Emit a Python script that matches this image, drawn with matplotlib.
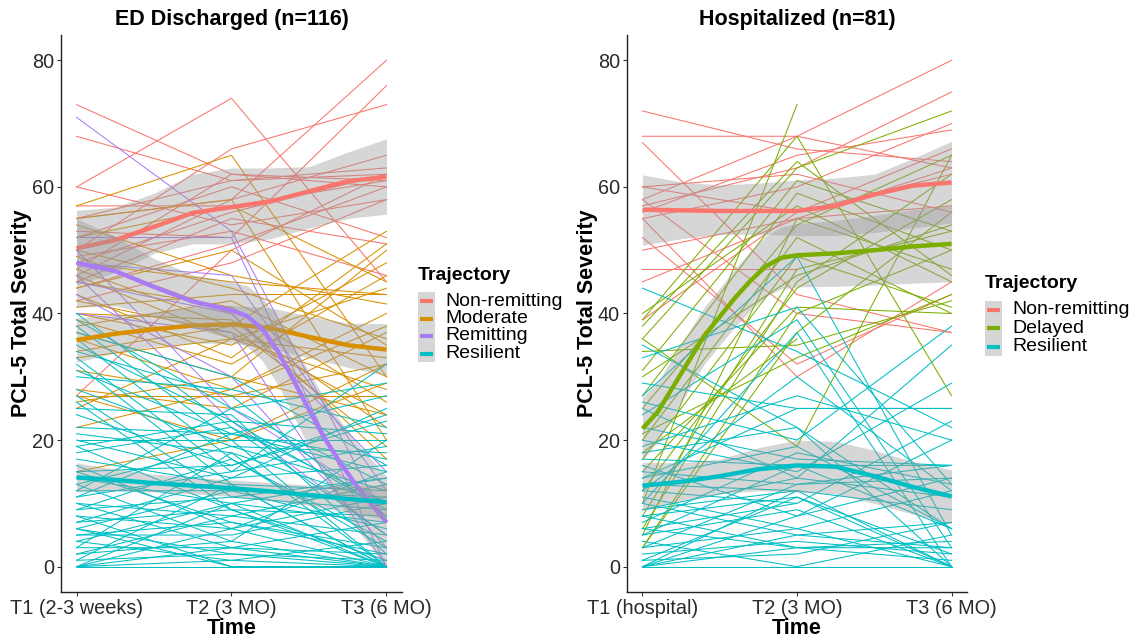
import numpy as np
import matplotlib
matplotlib.use("Agg")
import matplotlib.pyplot as plt
from matplotlib.patches import Rectangle

plt.rcParams['font.family'] = ['Liberation Sans', 'DejaVu Sans']

# ---------------- DATA ----------------
ed_title = "ED Discharged (n=116)"
hosp_title = "Hospitalized (n=81)"
ed_ticks = ["T1 (2-3 weeks)", "T2 (3 MO)", "T3 (6 MO)"]
hosp_ticks = ["T1 (hospital)", "T2 (3 MO)", "T3 (6 MO)"]
y_ticks = [0, 20, 40, 60, 80]

colors = {"Non-remitting": "#F8766D", "Moderate": "#D89000", "Remitting": "#A97CF5",
          "Resilient": "#00BFC4", "Delayed": "#7CAE00"}

nan = np.nan
# ED discharged individual trajectories (T1, T2, T3)
ed_nonremit_t1 = [73, 68, 60, 60, 50, 55, 53, 48, 47, 52, 45, 44, 27, 57, 49, 42, 55, 46]
ed_nonremit_t2 = [62, 61, 74, 54, 66, 58, 52, 56, 62, 60, 55, 51, 50, 57, 53, 48, 61, 58]
ed_nonremit_t3 = [60, 63, 45, 58, 73, 80, 76, 62, 61, 52, 51, 60, 62, 61, 46, 58, 62, 65]

ed_moderate_t1 = [57, 55, 54, 52, 50, 49, 48, 47, 46, 45, 44, 43, 42, 41, 40, 40, 39, 38, 37, 36,
                  34, 33, 31, 28, 27, 27, 26, 25, 22, 15]
ed_moderate_t2 = [65, 58, 46, 57, 44, 40, 45, 38, 36, 41, 50, 33, 37, 43, 35, 39, 32, 42, 30, 28,
                  38, 36, 27, 25, 27, 20, 30, 36, 28, 20]
ed_moderate_t3 = [30, 20, 41.5, 45, 36, 17, 43, 53, 28, 26, 35, 51, 24, 43, 48, 22, 46, 30, 50, 40,
                  19, 44, 32, 37, 27, 29, 24, 33, 38, 32]

ed_remit_t1 = [71, 52, 48, 45, 43, 40, 50, 46]
ed_remit_t2 = [53, 52, 46, 40, 30, 37, 25, 23]
ed_remit_t3 = [7, 0, 12, 15, 3, 0, 10, 5]

ed_resil_t1 = [40, 39, 38, 37, 36, 35, 34, 33, 32, 30, 28, 27, 25, 22, 21, 20, 20, 19, 18, 17,
               16, 15, 14, 13, 13, 12, 11, 10, 10, 9, 9, 8, 8, 7, 7, 6, 6, 5, 5, 4,
               4, 3, 3, 2, 2, 1, 1, 0, 0, 0, 0, 0, 12, 24, 26, 31, 15, 11, 19, 6]
ed_resil_t2 = [22, 25, 20, 30, 17, 23, 27, 15, 13, 28, 19, 11, 24, 21, 18, 14, 20, 9, 22, 13,
               6, 16, 10, 19, 4, 12, 15, 8, 3, 11, 17, 6, 0, 9, 14, 2, 12, 7, 5, 1,
               10, 3, 18, 8, 4, 2, 13, 0, 6, 1, 10, 3, 25, 16, 9, 21, 7, 21, 23, 0]
ed_resil_t3 = [10, 13, 0, 16, 3, 21, 8, 19, 0, 22, 12, 14, 2, 27, 10, 16, 20, 0, 5, 12,
               0, 24, 7, 18, 0, 11, 32, 13, 0, 9, 4, 15, 0, 8, 25, 0, 6, 3, 10, 0,
               14, 2, 0, 5, 20, 1, 0, 0, 11, 4, 0, 7, 29, 23, 1, 15, 2, 17, 9, 0]

# Hospitalized individual trajectories
ho_nonremit_t1 = [72, 68, 67, 58, 57, 56, 55, 60, 50, 47, 45, 52, 55, 58, 39, 60]
ho_nonremit_t2 = [66, 68, 43, 68, 63, 65, 60, 56, 55, 47, 55, 32, 30, 40, 56, 62]
ho_nonremit_t3 = [64, 63, 37, 80, 75, 69, 70, 66, 57, nan, 63, 43, 45, 37, 62, 56]

ho_delayed_t1 = [10, 39, 38, 36, 31, 40, 25, 20, 17, 8, 6, 3, 36, 34, 3, 12, 21, 27, 15, 5, 30, 18]
ho_delayed_t2 = [73, 68, 64, 63, 61, 57, 54, 52, 49, 47, 45, 40, 19, 35, 37, 44, 33, 59, 41, 55, 46, 36]
ho_delayed_t3 = [nan, 27, 46, 72, 53, 45, 65, 40, 41, 53, 62, 50, 65, 42, 56, 58, 43, 50, 40, 47, 54, nan]

ho_resil_t1 = [44, 35, 33, 29, 27, 26, 25, 24, 22, 20, 18, 17, 16, 15, 14, 13, 12, 11, 10, 10,
               9, 8, 8, 7, 6, 5, 5, 4, 3, 3, 2, 1, 1, 0, 0, 0, 0, 0, 12, 19, 6, 9, 14]
ho_resil_t2 = [34, 22, 41, 25, 49, 20, 14, 39, 17, 15, 22, 16, 8, 13, 25, 12, 10, 6, 5, 37,
               14, 3, 11, 18, 3, 9, 16, 0, 6, 13, 4, 11, 2, 0, 5, 12, 8, 3, 30, 27, 10, 12, 19]
ho_resil_t3 = [22, 0, 13, 25, 5, 38, 35, 3, 16, 29, 6, 16, 20, 14, 25, 9, 23, 12, 7, 0,
               11, 4, 2, 13, 3, 0, 6, 5, 0, 16, 2, 0, 7, 0, 3, 0, 14, 1, 12, 20, nan, nan, 6]

# Smoothed trajectories (loess fits): x, fit, lower, upper
sm_x = [1, 1.25, 1.5, 1.75, 2, 2.25, 2.5, 2.75, 3]
ed_nonremit_fit = [50.3, 51.6, 53.7, 55.9, 56.8, 57.7, 59.3, 60.9, 61.6]
ed_nonremit_lo = [44.5, 46.5, 49.5, 51.0, 51.0, 51.8, 53.5, 55.0, 55.7]
ed_nonremit_hi = [56.3, 56.8, 59.0, 62.0, 63.0, 63.0, 63.2, 65.5, 67.6]
ed_moderate_fit = [35.8, 36.8, 37.5, 38.1, 38.3, 37.7, 36.3, 35.0, 34.3]
ed_moderate_lo = [32.3, 33.8, 34.8, 35.3, 35.3, 34.5, 33.0, 31.5, 30.2]
ed_moderate_hi = [39.3, 39.8, 40.2, 40.9, 41.3, 40.9, 39.6, 38.5, 38.4]
ed_resil_fit = [14.1, 13.7, 13.2, 12.8, 12.4, 11.9, 11.3, 10.7, 10.2]
ed_resil_lo = [11.8, 12.0, 11.8, 11.5, 11.1, 10.5, 9.7, 8.6, 7.4]
ed_resil_hi = [16.4, 15.4, 14.6, 14.1, 13.7, 13.3, 12.9, 12.8, 13.0]

remit_x = [1, 1.25, 1.5, 1.75, 2, 2.1, 2.2, 2.3, 2.4, 2.5, 2.6, 2.7, 2.8, 2.9, 3]
ed_remit_fit = [48, 46.7, 44.2, 41.9, 40.5, 39.6, 37.5, 34, 29.5, 24.8, 20.3, 16.5, 13, 10, 7]
ed_remit_lo = [41, 41.2, 39.7, 37.7, 36.0, 34.8, 32.5, 28.7, 23.9, 18.8, 14.0, 9.9, 6.2, 3.0, -0.2]
ed_remit_hi = [55, 52.2, 48.7, 46.1, 45.0, 44.4, 42.5, 39.3, 35.1, 30.8, 26.6, 23.1, 19.8, 17.0, 14.2]

ho_nonremit_fit = [56.4, 56.3, 56.2, 56.2, 56.2, 57.0, 58.8, 60.2, 60.7]
ho_nonremit_lo = [50.8, 51.8, 52.5, 52.5, 52.3, 52.3, 52.8, 53.5, 54.3]
ho_nonremit_hi = [61.9, 60.8, 60.3, 60.6, 61.1, 61.4, 62.0, 64.5, 67.2]
ho_resil_fit = [12.8, 13.4, 14.3, 15.4, 16.0, 15.8, 14.3, 12.6, 11.1]
ho_resil_lo = [8.9, 10.5, 11.5, 12.0, 11.8, 11.5, 10.0, 8.3, 6.8]
ho_resil_hi = [16.5, 16.4, 17.0, 18.8, 20.0, 19.8, 18.4, 16.6, 15.3]

delayed_x = [1, 1.1, 1.2, 1.3, 1.4, 1.5, 1.6, 1.7, 1.8, 1.9, 2, 2.25, 2.5, 2.75, 3]
ho_delayed_fit = [21.8, 24.5, 28.5, 32.5, 36.5, 39.5, 42.5, 45.2, 47.5, 48.8, 49.2, 49.5, 50.0, 50.6, 51.0]
ho_delayed_lo = [16.8, 19.8, 23.8, 27.9, 32.0, 35.0, 37.9, 40.5, 42.7, 43.9, 44.2, 44.3, 44.5, 44.8, 45.0]
ho_delayed_hi = [26.8, 29.2, 33.2, 37.1, 41.0, 44.0, 47.1, 49.9, 52.3, 53.7, 54.2, 54.7, 55.5, 56.4, 57.0]

# ---------------- PLOT ----------------
W, H = 1132, 638
fig = plt.figure(figsize=(W / 100, H / 100), dpi=100)
fig.patch.set_facecolor("white")

RIB = "#999999"
RIB_A = 0.4
times = np.array([1, 2, 3])
BOLD = 15.5
TICK = 14.3


def draw_panel(ax, groups, smooths, ticks, title):
    for t1, t2, t3, col in groups:
        for a, b, c in zip(t1, t2, t3):
            ax.plot(times, [a, b, c], color=col, lw=0.75, solid_joinstyle="miter", zorder=2)
    for x, fit, lo, hi, col in smooths:
        ax.fill_between(x, lo, hi, color=RIB, alpha=RIB_A, lw=0, zorder=3)
        ax.plot(x, fit, color=col, lw=3.2, solid_capstyle="butt", zorder=3)
    ax.set_xlim(0.9, 3.1)
    ax.set_ylim(-4, 84)
    ax.set_xticks([1, 2, 3])
    ax.set_xticklabels(ticks, fontsize=TICK, color="#2a2a2a")
    ax.set_yticks(y_ticks)
    ax.set_yticklabels([str(v) for v in y_ticks], fontsize=TICK, color="#2a2a2a")
    ax.tick_params(length=3, width=0.8, color="#333333", pad=2)
    for s in ["top", "right"]:
        ax.spines[s].set_visible(False)
    for s in ["left", "bottom"]:
        ax.spines[s].set_linewidth(1.0)
        ax.spines[s].set_color("#222222")
    ax.set_xlabel("Time", fontsize=BOLD, fontweight="bold", labelpad=0)
    ax.set_ylabel("PCL-5 Total Severity", fontsize=BOLD, fontweight="bold", labelpad=0)
    ax.set_title(title, fontsize=BOLD, fontweight="bold", pad=7)


ax1 = fig.add_axes([61 / W, 1 - 592 / H, (402 - 61) / W, (592 - 35) / H])
draw_panel(
    ax1,
    [(ed_nonremit_t1, ed_nonremit_t2, ed_nonremit_t3, colors["Non-remitting"]),
     (ed_moderate_t1, ed_moderate_t2, ed_moderate_t3, colors["Moderate"]),
     (ed_remit_t1, ed_remit_t2, ed_remit_t3, colors["Remitting"]),
     (ed_resil_t1, ed_resil_t2, ed_resil_t3, colors["Resilient"])],
    [(sm_x, ed_nonremit_fit, ed_nonremit_lo, ed_nonremit_hi, colors["Non-remitting"]),
     (sm_x, ed_moderate_fit, ed_moderate_lo, ed_moderate_hi, colors["Moderate"]),
     (remit_x, ed_remit_fit, ed_remit_lo, ed_remit_hi, colors["Remitting"]),
     (sm_x, ed_resil_fit, ed_resil_lo, ed_resil_hi, colors["Resilient"])],
    ed_ticks, ed_title)

ax2 = fig.add_axes([627 / W, 1 - 592 / H, (967 - 627) / W, (592 - 35) / H])
draw_panel(
    ax2,
    [(ho_nonremit_t1, ho_nonremit_t2, ho_nonremit_t3, colors["Non-remitting"]),
     (ho_delayed_t1, ho_delayed_t2, ho_delayed_t3, colors["Delayed"]),
     (ho_resil_t1, ho_resil_t2, ho_resil_t3, colors["Resilient"])],
    [(sm_x, ho_nonremit_fit, ho_nonremit_lo, ho_nonremit_hi, colors["Non-remitting"]),
     (delayed_x, ho_delayed_fit, ho_delayed_lo, ho_delayed_hi, colors["Delayed"]),
     (sm_x, ho_resil_fit, ho_resil_lo, ho_resil_hi, colors["Resilient"])],
    hosp_ticks, hosp_title)


def draw_legend(x0, title_y, first_y, step, labels):
    fig.text(x0 / W, 1 - title_y / H, "Trajectory", fontsize=14, fontweight="bold",
             ha="left", va="center")
    top = first_y - step / 2
    n = len(labels)
    fig.patches.append(Rectangle((x0 / W, 1 - (top + n * step) / H), 17 / W, n * step / H,
                                 transform=fig.transFigure, facecolor="#D6D6D6",
                                 edgecolor="none", zorder=1))
    for i, lab in enumerate(labels):
        yy = first_y + i * step
        fig.lines.append(plt.Line2D([(x0 + 2) / W, (x0 + 15) / W], [1 - yy / H, 1 - yy / H],
                                    transform=fig.transFigure, color=colors[lab], lw=3,
                                    solid_capstyle="butt", zorder=2))
        fig.text((x0 + 27) / W, 1 - yy / H, lab, fontsize=14, ha="left", va="center")


draw_legend(418, 276, 301, 17.5, ["Non-remitting", "Moderate", "Remitting", "Resilient"])
draw_legend(985, 284, 310, 18.3, ["Non-remitting", "Delayed", "Resilient"])

fig.savefig("out.png", dpi=100, facecolor="white")
